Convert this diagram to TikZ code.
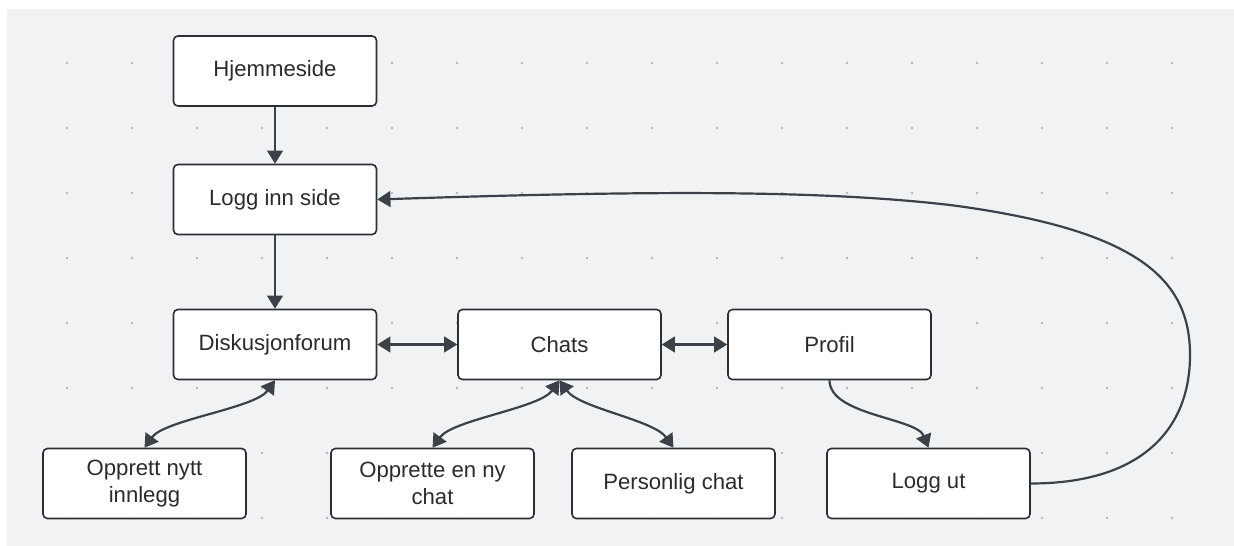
\documentclass[tikz,border=0pt]{standalone}
\usepackage{fontspec}
\setmainfont{Liberation Sans}
\usetikzlibrary{arrows.meta}
\definecolor{bgcol}{HTML}{F1F2F4}
\definecolor{dotcol}{HTML}{B4B6BA}
\definecolor{linecol}{HTML}{3B4049}
\definecolor{boxcol}{HTML}{2C2E33}
\definecolor{txtcol}{HTML}{2B2B2B}
\begin{document}
\begin{tikzpicture}[
                x = 0.02cm, y = -0.02cm,
                box/.style = {draw=boxcol, line width=0.9pt, rounded corners=2.5pt, fill=white, minimum width=4.06cm, minimum height=1.4cm, inner sep=0pt, align=center, text=txtcol, font=\fontsize{12.6}{15.3}\selectfont},
                arr/.style = {draw=linecol, line width=1.25pt, -{Triangle[length=7.5pt, width=9pt]}},
                biarr/.style = {draw=linecol, line width=1.25pt, {Triangle[length=7.5pt, width=9pt]}-{Triangle[length=7.5pt, width=9pt]}},
            ]
            \useasboundingbox (0,0) rectangle (1234,546);
            \fill[bgcol] (7,9) rectangle (1234,546);
            \foreach \gx in {0,...,17}
                \foreach \gy in {0,...,7}
                    \fill[dotcol] (67+65*\gx, 63+65*\gy) circle (0.75pt);

            \node (HJ) [box] at (275,71) {Hjemmeside};
            \node (LI) [box] at (275,199.5) {Logg inn side};
            \node (DF) [box] at (275,344.5) {Diskusjonforum};
            \node (CH) [box] at (559.5,344.5) {Chats};
            \node (PR) [box] at (829.5,344.5) {Profil};

            \node (ON) [box] at (144.5,483.5) {Opprett nytt\\innlegg};
            \node (OC) [box] at (432.5,483.5) {Opprette en ny\\chat};
            \node (PC) [box] at (673.5,483.5) {Personlig chat};
            \node (LU) [box] at (928.5,483.5) {Logg ut};

            \coordinate (RT) at (1190,355);
            \coordinate (TP) at (950,205);

            \path[arr] (HJ) -- (LI);
            \path[arr] (LI) -- (DF);
            \path[biarr] (DF) -- (CH);
            \path[biarr] (CH) -- (PR);

            \path[biarr] (DF.south) .. controls +(-20,28) and +(20,-28) .. (ON.north);
            \path[biarr] (CH.south) .. controls +(-20,28) and +(20,-28) .. (OC.north);
            \path[biarr] (CH.south) .. controls +(20,28) and +(-20,-28) .. (PC.north);
            \path[arr] (PR.south) .. controls +(0,35) and +(-12,-30) .. (LU.north);

            \path[arr] (LU.east) .. controls +(110,0) and +(0,75) .. (RT)
                .. controls +(0,-75) and +(190,25) .. (TP)
                .. controls +(-130,-15) and +(273,-9) .. (LI.east);
        \end{tikzpicture}
\end{document}
